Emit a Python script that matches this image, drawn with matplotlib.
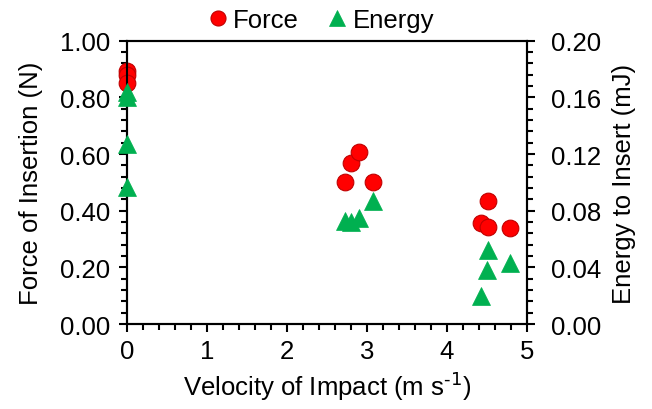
import matplotlib

matplotlib.use("Agg")
import matplotlib.pyplot as plt
from matplotlib.ticker import MultipleLocator, FormatStrFormatter

plt.rcParams["font.family"] = ["Liberation Sans", "DejaVu Sans"]

# force of insertion (N) vs impact velocity
force_v = [0.0, 0.0, 0.0, 2.73, 2.80, 2.90, 3.07, 4.43, 4.51, 4.52, 4.79]
force_n = [0.895, 0.88, 0.85, 0.503, 0.569, 0.607, 0.503, 0.357, 0.342, 0.434, 0.339]

# energy to insert (mJ) vs impact velocity
energy_v = [0.0, 0.0, 0.0, 0.0, 2.73, 2.80, 2.90, 3.07, 4.43, 4.50, 4.52, 4.79]
energy_mj = [0.164, 0.160, 0.127, 0.097, 0.073, 0.072, 0.075, 0.087, 0.0196, 0.038, 0.052, 0.043]

FS = 18.5

fig = plt.figure(figsize=(6.52, 4.10), dpi=100)
ax = fig.add_axes([0.195, 0.207, 0.613, 0.691])
ax2 = ax.twinx()

h1 = ax.plot(force_v, force_n, "o", ms=12, mfc="#ff0000", mec="#c00000",
             mew=0.8, clip_on=False, zorder=3, label="Force")[0]
h2 = ax2.plot(energy_v, energy_mj, "^", ms=12.5, mfc="#00b050", mec="#00b050",
              mew=0.5, clip_on=False, zorder=3, label="Energy")[0]

ax.set_xlim(0, 5)
ax.set_ylim(0, 1.0)
ax2.set_ylim(0, 0.2)
ax.xaxis.set_major_locator(MultipleLocator(1))
ax.xaxis.set_minor_locator(MultipleLocator(0.2))
ax.yaxis.set_major_locator(MultipleLocator(0.2))
ax.yaxis.set_minor_locator(MultipleLocator(0.04))
ax.yaxis.set_major_formatter(FormatStrFormatter("%.2f"))
ax2.yaxis.set_major_locator(MultipleLocator(0.04))
ax2.yaxis.set_minor_locator(MultipleLocator(0.008))
ax2.yaxis.set_major_formatter(FormatStrFormatter("%.2f"))

for a in (ax, ax2):
    for s in a.spines.values():
        s.set_linewidth(1.5)
    a.tick_params(which="major", direction="out", length=6, width=1.5,
                  labelsize=FS)
    a.tick_params(which="minor", direction="out", length=4, width=1.5)
ax.tick_params(axis="x", which="both", top=False, pad=5)
ax.tick_params(axis="y", which="major", pad=6.5)
ax2.tick_params(axis="y", which="major", pad=11.5)

ax.set_xlabel("Velocity of Impact (m s$^{\\text{-1}}$)", fontsize=FS, labelpad=4)
ax.set_ylabel("Force of Insertion (N)", fontsize=FS, labelpad=12)
ax2.set_ylabel("Energy to Insert (mJ)", fontsize=FS, labelpad=8)

fig.legend([h1, h2], ["Force", "Energy"], loc="upper center",
           bbox_to_anchor=(0.49, 1.035), ncol=2, frameon=False, fontsize=FS,
           handlelength=1.0, handletextpad=0.1, columnspacing=1.0,
           markerscale=0.9)

fig.savefig("out.png", dpi=100)
